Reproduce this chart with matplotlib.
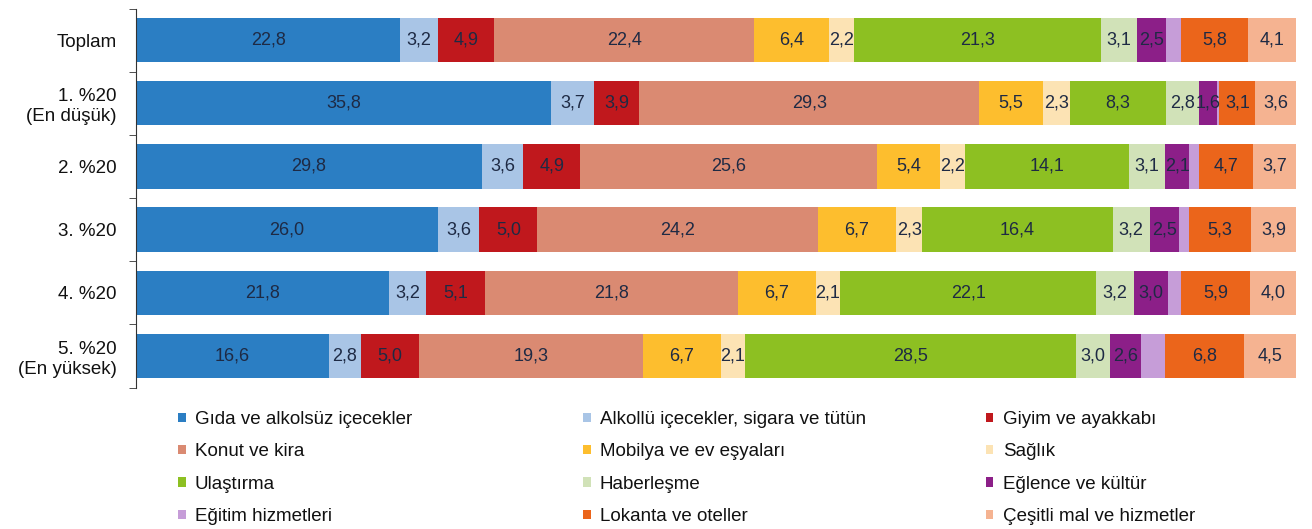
import matplotlib.pyplot as plt
import numpy as np

plt.rcParams['font.family'] = ['Liberation Sans', 'DejaVu Sans']

# Hanehalkı tüketim harcamalarının dağılımı (%), gelir gruplarına göre
groups = ['Toplam', '1. %20\n(En düşük)', '2. %20', '3. %20', '4. %20', '5. %20\n(En yüksek)']

categories = ['Gıda ve alkolsüz içecekler', 'Alkollü içecekler, sigara ve tütün', 'Giyim ve ayakkabı',
              'Konut ve kira', 'Mobilya ve ev eşyaları', 'Sağlık',
              'Ulaştırma', 'Haberleşme', 'Eğlence ve kültür',
              'Eğitim hizmetleri', 'Lokanta ve oteller', 'Çeşitli mal ve hizmetler']

gida = [22.8, 35.8, 29.8, 26.0, 21.8, 16.6]
alkol = [3.2, 3.7, 3.6, 3.6, 3.2, 2.8]
giyim = [4.9, 3.9, 4.9, 5.0, 5.1, 5.0]
konut = [22.4, 29.3, 25.6, 24.2, 21.8, 19.3]
mobilya = [6.4, 5.5, 5.4, 6.7, 6.7, 6.7]
saglik = [2.2, 2.3, 2.2, 2.3, 2.1, 2.1]
ulastirma = [21.3, 8.3, 14.1, 16.4, 22.1, 28.5]
haberlesme = [3.1, 2.8, 3.1, 3.2, 3.2, 3.0]
eglence = [2.5, 1.6, 2.1, 2.5, 3.0, 2.6]
egitim = [1.3, 0.2, 0.8, 0.9, 1.1, 2.1]   # etiketsiz, genişlikten tahmin
lokanta = [5.8, 3.1, 4.7, 5.3, 5.9, 6.8]
cesitli = [4.1, 3.6, 3.7, 3.9, 4.0, 4.5]

series = [gida, alkol, giyim, konut, mobilya, saglik,
          ulastirma, haberlesme, eglence, egitim, lokanta, cesitli]
colors = ['#2B7EC3', '#A9C5E6', '#C0181D', '#DA8A72', '#FDBE2E', '#FCE3B4',
          '#8DC022', '#D1E2B8', '#8C1F88', '#C69DD8', '#EB651B', '#F5B391']
show_label = [True] * 12
show_label[9] = False

fig = plt.figure(figsize=(13.12, 5.29), dpi=100)
ax = fig.add_axes([136 / 1312, 1 - 387.5 / 529, 1160 / 1312, 379 / 529])

y = np.arange(len(groups))
left = np.zeros(len(groups))
handles = []
for name, vals, col, lab in zip(categories, series, colors, show_label):
    vals = np.array(vals)
    b = ax.barh(y, vals, left=left, height=0.7, color=col, label=name)
    handles.append(b)
    if lab:
        for yi, l, v in zip(y, left, vals):
            ax.text(l + v / 2, yi, f'{v:.1f}'.replace('.', ','), ha='center', va='center',
                    fontsize=13, color='#1E2A44')
    left += vals

ax.set_xlim(0, 100)
ax.set_ylim(5.5, -0.5)
ax.set_yticks(y)
ax.set_yticklabels(groups, fontsize=13.5, color='#111111')
ax.tick_params(axis='y', which='major', length=0, pad=14)
ax.set_yticks(np.arange(-0.5, 6, 1), minor=True)
ax.tick_params(axis='y', which='minor', length=5, color='#333333')
ax.set_xticks([])
for s in ['top', 'right', 'bottom']:
    ax.spines[s].set_visible(False)
ax.spines['left'].set_color('#333333')

# legend in three separate columns
col_x = [178 / 1312, 583 / 1312, 986 / 1312]
for c in range(3):
    hs = [handles[i] for i in range(c, 12, 3)]
    ls = [categories[i] for i in range(c, 12, 3)]
    fig.legend(hs, ls, loc='upper left', bbox_to_anchor=(col_x[c], 1 - 411 / 529),
               frameon=False, fontsize=13.5, labelcolor='#111111',
               handlelength=0.4, handleheight=0.4,
               handletextpad=0.5, labelspacing=0.82, borderpad=0, borderaxespad=0)

fig.savefig('out.png', dpi=100)
